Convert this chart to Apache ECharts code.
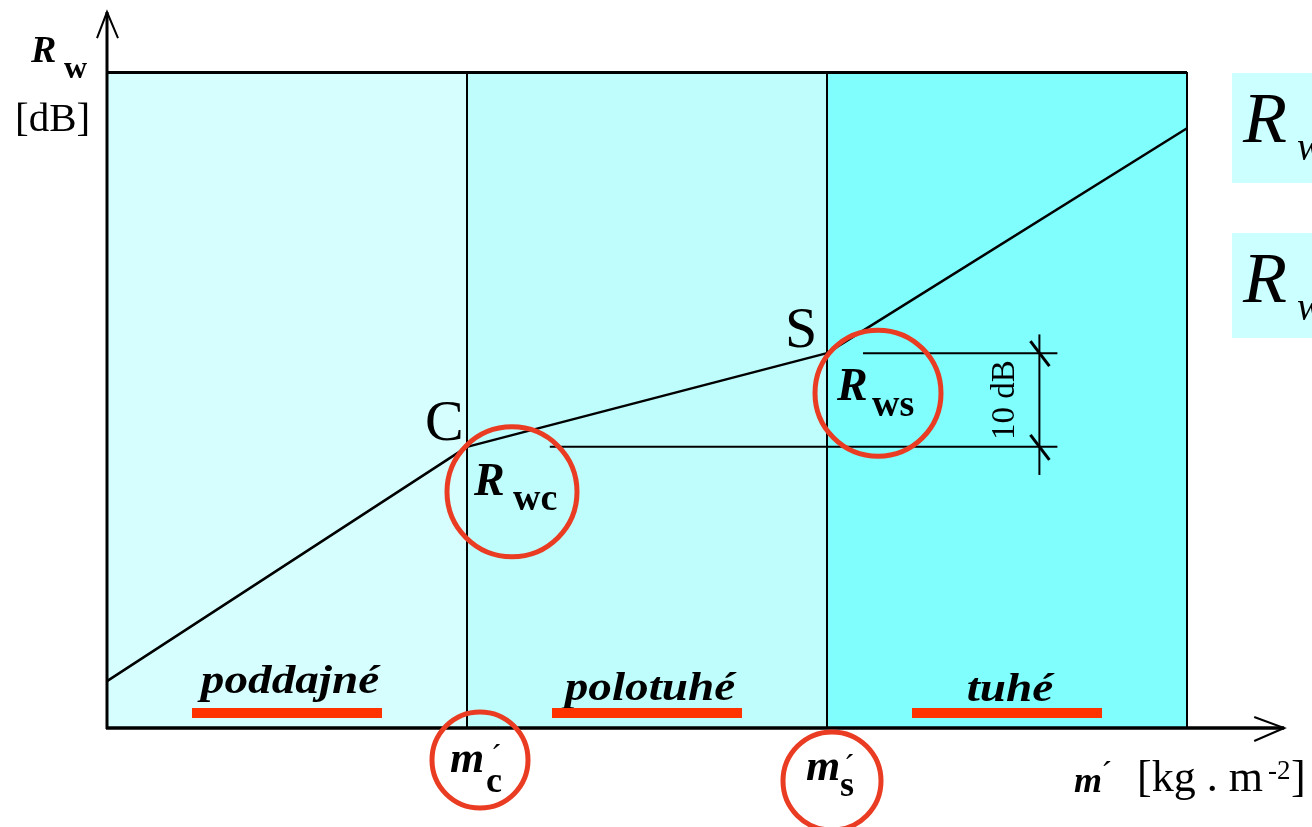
<!DOCTYPE html>
<html>
<head>
<meta charset="utf-8">
<script src="https://cdn.jsdelivr.net/npm/echarts@6/dist/echarts.min.js"></script>
<style>
  html, body { margin: 0; padding: 0; background: #ffffff; }
  #chart { width: 1312px; height: 827px; }
</style>
</head>
<body>
<div id="chart"></div>
<script>
// Surface mass m' (relative units) and weighted sound reduction index Rw [dB]
const massPoints = [0, 100, 200, 300];
const rwPoints = [5, 30, 40, 64];

// Wall stiffness zones along m'
const zoneEdges = [0, 100, 200, 300];
const zoneNames = ['poddajné', 'polotuhé', 'tuhé'];
const zoneColors = ['#d6fefe', '#bffdfd', '#80fdfd'];

// Characteristic points C and S
const rwC = 30;
const rwS = 40;
const xMax = 300;
const yMax = 70;

// Reference lines for the 10 dB dimension
const refC = [123, 264];
const refS = [210, 264];
const dimX = 259;
const dimSpan = [27, 42];

const SERIF = "'Liberation Serif', 'DejaVu Serif', 'Times New Roman', serif";
const INK = '#000000';
const RED_RING = '#ea3c22';
const RED_BAR = '#ff3300';

const chart = echarts.init(document.getElementById('chart'), null, { renderer: 'canvas' });

const zoneAreas = zoneNames.map((name, i) => ([
  { xAxis: zoneEdges[i], itemStyle: { color: zoneColors[i] } },
  { xAxis: zoneEdges[i + 1] }
]));

chart.setOption({
  backgroundColor: '#ffffff',
  animation: false,
  grid: { left: 107, right: 125, top: 72, bottom: 99 },
  xAxis: { type: 'value', min: 0, max: xMax, show: false },
  yAxis: { type: 'value', min: 0, max: yMax, show: false },
  series: [
    {
      name: 'zones',
      type: 'line',
      data: [],
      markArea: { silent: true, itemStyle: { opacity: 1 }, label: { show: false }, data: zoneAreas },
      markLine: {
        silent: true,
        symbol: 'none',
        label: { show: false },
        lineStyle: { color: INK, width: 2, type: 'solid' },
        data: [
          { xAxis: zoneEdges[1] },
          { xAxis: zoneEdges[2] },
          { xAxis: zoneEdges[3] },
          { yAxis: yMax, lineStyle: { width: 3 } }
        ]
      },
      z: 1
    },
    {
      name: 'Rw',
      type: 'line',
      data: massPoints.map((m, i) => [m, rwPoints[i]]),
      symbol: 'none',
      lineStyle: { color: INK, width: 2.5 },
      z: 5
    },
    {
      name: 'Rwc',
      type: 'line',
      data: [[refC[0], rwC], [refC[1], rwC]],
      symbol: 'none',
      lineStyle: { color: INK, width: 2 },
      z: 4
    },
    {
      name: 'Rws',
      type: 'line',
      data: [[refS[0], rwS], [refS[1], rwS]],
      symbol: 'none',
      lineStyle: { color: INK, width: 2 },
      z: 4
    },
    {
      name: 'dimension',
      type: 'line',
      data: [[dimX, dimSpan[0]], [dimX, dimSpan[1]]],
      symbol: 'none',
      lineStyle: { color: INK, width: 2 },
      z: 4
    }
  ]
});

const px = (x, y) => chart.convertToPixel({ gridIndex: 0 }, [x, y]);

// Text element centred vertically on (x, y)
function txt(x, y, text, font, opts) {
  const o = opts || {};
  return {
    type: 'text',
    x: x,
    y: y,
    z: o.z || 20,
    scaleX: o.scaleX || 1,
    rotation: o.rotation || 0,
    style: {
      text: text,
      font: font,
      fill: INK,
      align: o.align || 'left',
      verticalAlign: 'middle'
    }
  };
}

function ring(cx, cy, r) {
  return {
    type: 'circle',
    z: 30,
    shape: { cx: cx, cy: cy, r: r },
    style: { fill: 'none', stroke: RED_RING, lineWidth: 5 }
  };
}

const origin = px(0, 0);
const yTip = px(0, 76.4);
const xTip = px(327, 0);
const pC = px(zoneEdges[1], rwC);
const pS = px(zoneEdges[2], rwS);
const baseC = px(zoneEdges[1], 0);
const baseS = px(zoneEdges[2], 0);
const dimTop = px(dimX, rwS);
const dimBot = px(dimX, rwC);

const graphics = [];

// Axes with open arrow heads
graphics.push({
  type: 'polyline', z: 25,
  shape: { points: [[origin[0], origin[1] + 1], [yTip[0], yTip[1]]] },
  style: { stroke: INK, lineWidth: 3, fill: 'none' }
});
graphics.push({
  type: 'polyline', z: 25,
  shape: { points: [[yTip[0] - 10, yTip[1] + 26], [yTip[0], yTip[1]], [yTip[0] + 11, yTip[1] + 26]] },
  style: { stroke: INK, lineWidth: 2, fill: 'none' }
});
graphics.push({
  type: 'polyline', z: 25,
  shape: { points: [[origin[0] - 1, origin[1]], [xTip[0], xTip[1]]] },
  style: { stroke: INK, lineWidth: 3.5, fill: 'none' }
});
graphics.push({
  type: 'polyline', z: 25,
  shape: { points: [[xTip[0] - 30, xTip[1] - 11], [xTip[0], xTip[1]], [xTip[0] - 30, xTip[1] + 13]] },
  style: { stroke: INK, lineWidth: 2, fill: 'none' }
});

// Axis titles
graphics.push(txt(31, 52, 'R', 'italic bold 38px ' + SERIF));
graphics.push(txt(64, 70, 'w', 'bold 32px ' + SERIF));
graphics.push(txt(15, 120, '[dB]', '41px ' + SERIF));

graphics.push(txt(1074, 783, 'm', 'italic bold 36px ' + SERIF));
graphics.push(txt(1101, 776, '´', '34px ' + SERIF));
graphics.push(txt(1137, 779, '[kg . m', '44px ' + SERIF));
graphics.push(txt(1268, 772, '-2', '27px ' + SERIF));
graphics.push(txt(1291, 779, ']', '44px ' + SERIF));

// Zone names with red underline bars
const zoneLabelY = [683, 690, 691];
zoneNames.forEach((name, i) => {
  const c = px((zoneEdges[i] + zoneEdges[i + 1]) / 2, 0);
  graphics.push(txt(c[0] + 3, zoneLabelY[i], name, 'italic bold 40px ' + SERIF, { align: 'center', scaleX: 1.18 }));
  graphics.push({
    type: 'rect', z: 22,
    shape: { x: c[0] - 95, y: 708, width: 190, height: 10 },
    style: { fill: RED_BAR }
  });
});

// Characteristic points
graphics.push(txt(pC[0] - 42, pC[1] - 22, 'C', '58px ' + SERIF));
graphics.push(txt(pS[0] - 42, pS[1] - 21, 'S', '58px ' + SERIF));

graphics.push(txt(pC[0] + 7, pC[1] + 36, 'R', 'italic bold 46px ' + SERIF));
graphics.push(txt(pC[0] + 46, pC[1] + 53, 'wc', 'bold 38px ' + SERIF));
graphics.push(txt(pS[0] + 10, pS[1] + 35, 'R', 'italic bold 46px ' + SERIF));
graphics.push(txt(pS[0] + 45, pS[1] + 53, 'ws', 'bold 38px ' + SERIF));

// Boundary masses on the m' axis
graphics.push(txt(baseC[0] - 17, baseC[1] + 33, 'm', 'italic bold 44px ' + SERIF));
graphics.push(txt(baseC[0] + 24, baseC[1] + 30, '´', '32px ' + SERIF));
graphics.push(txt(baseC[0] + 19, baseC[1] + 55, 'c', 'bold 36px ' + SERIF));
graphics.push(txt(baseS[0] - 21, baseS[1] + 41, 'm', 'italic bold 44px ' + SERIF));
graphics.push(txt(baseS[0] + 17, baseS[1] + 40, '´', '32px ' + SERIF));
graphics.push(txt(baseS[0] + 13, baseS[1] + 59, 's', 'bold 36px ' + SERIF));

// 10 dB dimension ticks and label
[dimTop, dimBot].forEach(p => {
  graphics.push({
    type: 'line', z: 24,
    shape: { x1: p[0] - 9, y1: p[1] - 12, x2: p[0] + 10, y2: p[1] + 13 },
    style: { stroke: INK, lineWidth: 3 }
  });
});
graphics.push(txt(dimTop[0] - 34, (dimTop[1] + dimBot[1]) / 2, '10 dB', '33px ' + SERIF,
  { align: 'center', rotation: Math.PI / 2 }));

// Red rings highlighting the key quantities
graphics.push(ring(baseC[0] + 13, baseC[1] + 32, 48));
graphics.push(ring(baseS[0] + 5, baseS[1] + 53, 49));
graphics.push(ring(pC[0] + 45, pC[1] + 45, 65));
graphics.push(ring(pS[0] + 51, pS[1] + 40, 63));

// Formula boxes at the right edge
[[73, 110], [233, 105]].forEach(b => {
  graphics.push({
    type: 'rect', z: 2,
    shape: { x: 1232, y: b[0], width: 90, height: b[1] },
    style: { fill: '#ccffff' }
  });
  graphics.push(txt(1243, b[0] + 50, 'R', 'italic 72px ' + SERIF));
  graphics.push(txt(1297, b[0] + 76, 'w', 'italic 40px ' + SERIF));
});

chart.setOption({ graphic: graphics });
</script>
</body>
</html>
